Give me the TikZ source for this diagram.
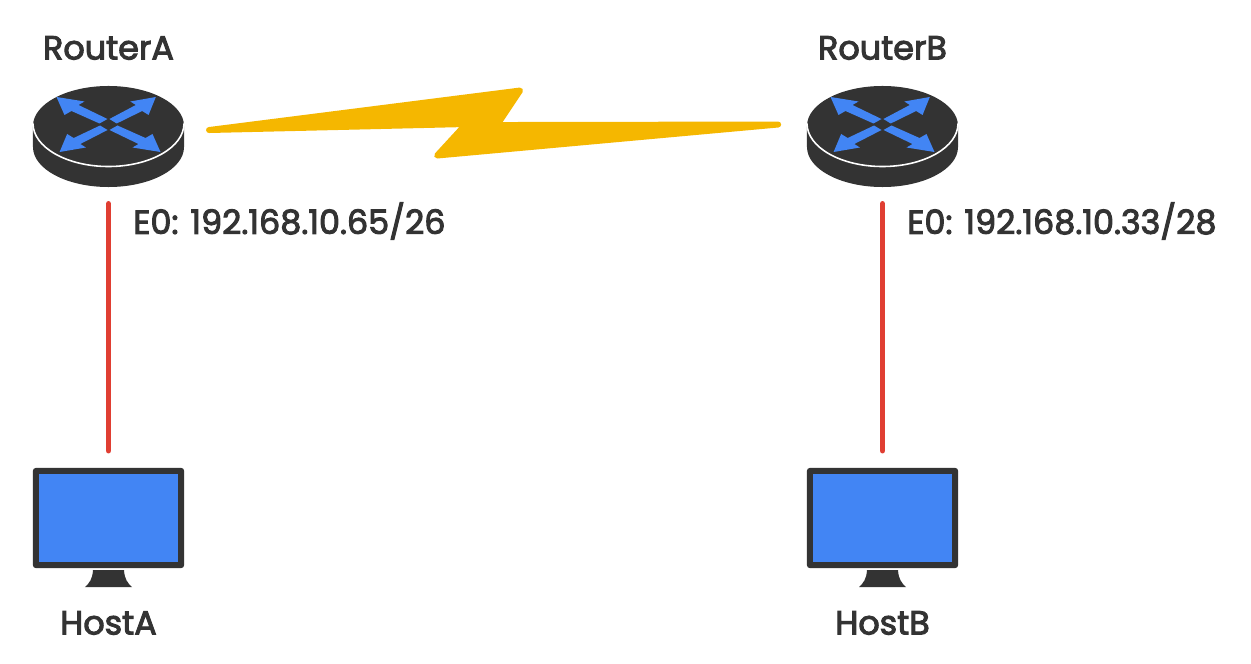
\documentclass[tikz,border=0pt]{standalone}
\usepackage{fontspec}
\setmainfont[FakeBold=3]{Poppins}
\usetikzlibrary{positioning}
\definecolor{darkgray}{HTML}{333333}
\definecolor{iconblue}{HTML}{4285F4}
\definecolor{linkred}{HTML}{E03E32}
\definecolor{boltgold}{HTML}{F5B700}
\tikzset{
	iconbox/.style={minimum width=3.02cm, minimum height=2.02cm, inner sep=0pt, outer sep=0.34cm},
	tag/.style={text=darkgray, font=\fontsize{19}{23}\selectfont, inner sep=0pt},
	lanlink/.style={draw=linkred, line width=3.4pt, line cap=round},
	wanbolt/.style={fill=boltgold, draw=boltgold, line width=3.4pt, line join=round},
	routericon/.pic={
		\begin{scope}[x=0.02cm, y=0.02cm]
			\fill[darkgray] (-75.5,10.5) -- (-75.5,-10.5) arc[start angle=180, end angle=360, x radius=75.5, y radius=40] -- (75.5,10.5) arc[start angle=0, end angle=180, x radius=75.5, y radius=40] -- cycle;
			\draw[white, line width=0.9pt] (-75.5,13) arc[start angle=180, end angle=360, x radius=75.5, y radius=43];
			\foreach \sx/\sy in {1/1, -0.91/1, 0.94/-1, -1/-1}
				\fill[iconblue, shift={(0,12)}, xscale=\sx, yscale=\sy] (-52,27.5) -- (-24,23) -- (-30,19.5) -- (-1,5.5) -- (-9,1) -- (-37,13.5) -- (-44,9.5) -- cycle;
		\end{scope}
	},
	hosticon/.pic={
		\begin{scope}[x=0.02cm, y=0.02cm]
			\fill[darkgray, rounded corners=1.5pt] (-75.5,50) rectangle (75.5,-50);
			\fill[iconblue] (-69.5,44) rectangle (69.5,-44);
			\fill[darkgray] (-15.5,-52) -- (15.5,-52) .. controls (16,-61) and (19,-65) .. (23.5,-69) -- (-23.5,-69) .. controls (-19,-65) and (-16,-61) .. (-15.5,-52) -- cycle;
		\end{scope}
	}
}

\begin{document}
\begin{tikzpicture}[on grid]
	\useasboundingbox (0,0) rectangle (25.02,-13.28);
	\node (routerA) [iconbox] at (2.17,-2.73) {};
	\node (routerB) [iconbox, right=15.48cm of routerA] {};
	\node (hostA) [iconbox, below=7.63cm of routerA] {};
	\node (hostB) [iconbox, right=15.48cm of hostA] {};
	\pic at (routerA) {routericon};
	\pic at (routerB) {routericon};
	\pic at (hostA) {hosticon};
	\pic at (hostB) {hosticon};
	\node (nameRA) [tag, above=1.77cm of routerA] {RouterA};
	\node (nameRB) [tag, above=1.77cm of routerB] {RouterB};
	\node (nameHA) [tag, below=2.1cm of hostA] {HostA};
	\node (nameHB) [tag, below=2.1cm of hostB] {HostB};
	\node (ipA) [tag, anchor=west] at (2.66,-4.42) {E0: 192.168.10.65/26};
	\node (ipB) [tag, anchor=west] at (18.14,-4.42) {E0: 192.168.10.33/28};
	\draw[lanlink] (routerA) -- (hostA);
	\draw[lanlink] (routerB) -- (hostB);
	\begin{scope}[x=0.02cm, y=-0.02cm]
		\filldraw[wanbolt] (209,130) -- (520,90.5) -- (497,125) -- (778,124.5) -- (437,155.5) -- (466,124) -- cycle;
	\end{scope}
\end{tikzpicture}
\end{document}
